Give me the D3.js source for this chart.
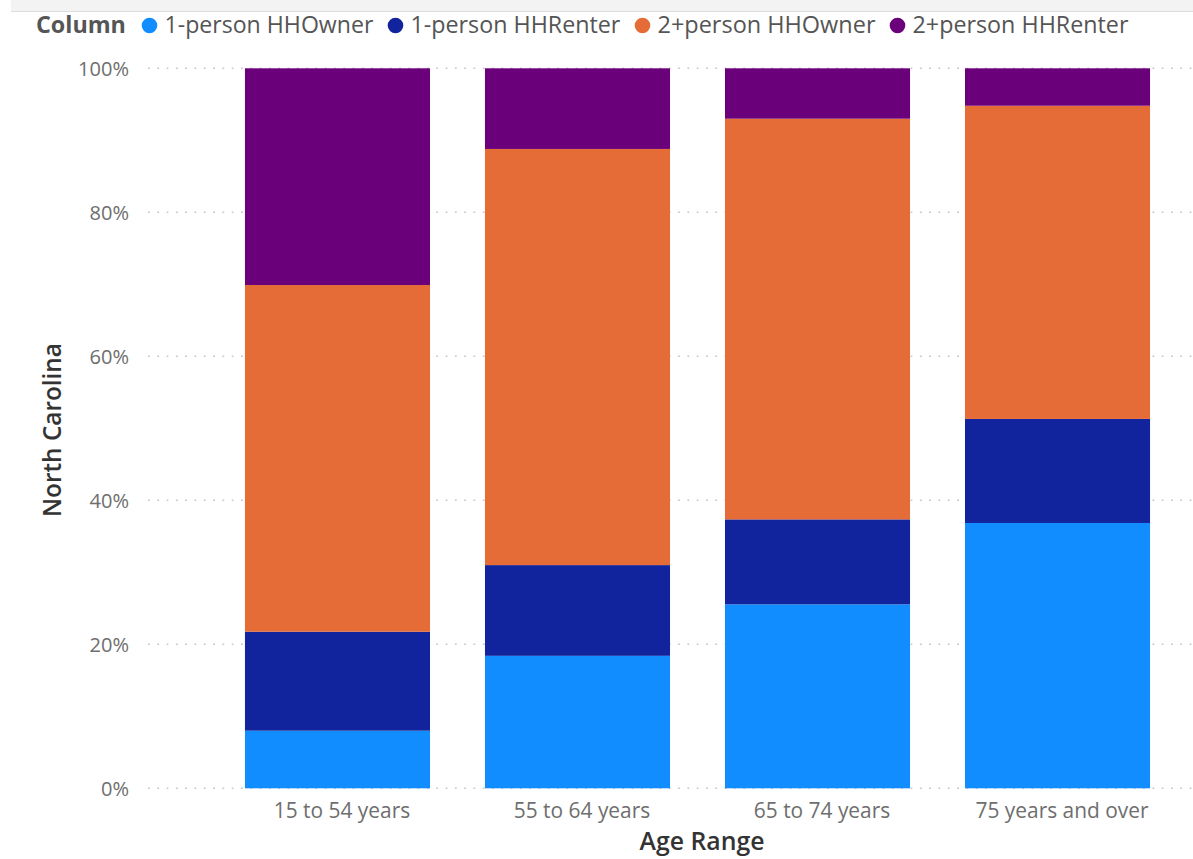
<!DOCTYPE html>
<html>
<head>
<meta charset="utf-8">
<script src="https://cdn.jsdelivr.net/npm/d3@7"></script>
<style>
  html, body { margin: 0; padding: 0; background: #fff; }
  svg { display: block; }
  text { font-family: "Segoe UI", "Open Sans", "Noto Sans", sans-serif; }
</style>
</head>
<body>
<svg id="chart" width="1193" height="859"></svg>
<script>
// ---- data ----
const categories = ["15 to 54 years", "55 to 64 years", "65 to 74 years", "75 years and over"];
const seriesNames = ["1-person HHOwner", "1-person HHRenter", "2+person HHOwner", "2+person HHRenter"];
const ownerOne   = [8.0, 18.4, 25.55, 36.85];
const renterOne  = [13.75, 12.6, 11.8, 14.45];
const ownerTwo   = [48.15, 57.8, 55.65, 43.5];
const renterTwo  = [30.1, 11.2, 7.0, 5.2];
const yTicks = [0, 20, 40, 60, 80, 100];
const colors = ["#118DFF", "#12239E", "#E66C37", "#6B007B"];
const legendTitle = "Column";
const xTitle = "Age Range";
const yTitle = "North Carolina";

// ---- build table ----
const seriesValues = [ownerOne, renterOne, ownerTwo, renterTwo];
const table = categories.map((c, i) => {
  const row = { cat: c };
  seriesNames.forEach((s, j) => row[s] = seriesValues[j][i]);
  return row;
});
const stacked = d3.stack().keys(seriesNames).offset(d3.stackOffsetExpand)(table);

const svg = d3.select("#chart");
const W = 1193, H = 859;

function fit(sel, target) {
  const n = sel.node();
  const fs = parseFloat(sel.attr("font-size"));
  const w = n.getComputedTextLength();
  sel.attr("font-size", (fs * target / w).toFixed(2));
}

// top bar
svg.append("rect").attr("x", 11).attr("y", 0).attr("width", W - 11).attr("height", 11).attr("fill", "#f3f3f3");
svg.append("line").attr("x1", 11).attr("x2", W).attr("y1", 11.5).attr("y2", 11.5).attr("stroke", "#dcdcdc").attr("stroke-width", 1);

// scales
const x = d3.scaleBand().domain(categories).range([148, 1247]).paddingInner(0.229).paddingOuter(0.404);
const y = d3.scaleLinear().domain([0, 1]).range([788.3, 68.3]);

// gridlines
const grid = svg.append("g");
grid.selectAll("line").data(yTicks).join("line")
  .attr("x1", 148).attr("x2", W)
  .attr("y1", d => y(d / 100)).attr("y2", d => y(d / 100))
  .attr("stroke", "#c8c8c8").attr("stroke-width", 1.6)
  .attr("stroke-dasharray", "1.8,7.5");

// y axis labels via d3 axis
const yAxis = svg.append("g").attr("transform", "translate(129,0)")
  .call(d3.axisLeft(y).tickValues(yTicks.map(d => d / 100)).tickFormat(d3.format(".0%")).tickSize(0).tickPadding(0));
yAxis.select(".domain").remove();
yAxis.selectAll("text").attr("font-size", 18).attr("fill", "#6e6e6e").attr("font-family", null).attr("dy", "0.35em");
{
  const t = yAxis.selectAll("text").filter(d => d === 1);
  const w = t.node().getComputedTextLength();
  const fs = 18 * 51 / w;
  yAxis.selectAll("text").attr("font-size", fs.toFixed(2));
}

// bars
const layers = svg.append("g").selectAll("g").data(stacked).join("g")
  .attr("fill", (d, i) => colors[i]);
layers.selectAll("rect").data(d => d).join("rect")
  .attr("x", d => x(d.data.cat))
  .attr("width", x.bandwidth())
  .attr("y", d => y(d[1]))
  .attr("height", d => y(d[0]) - y(d[1]));

// x axis labels
const xAxis = svg.append("g").attr("transform", "translate(0,788.3)")
  .call(d3.axisBottom(x).tickSize(0).tickPadding(0));
xAxis.select(".domain").remove();
xAxis.selectAll("text").attr("font-size", 18).attr("fill", "#6e6e6e").attr("font-family", null)
  .attr("x", 4.5).attr("y", 29.5).attr("dy", 0);
{
  const t = xAxis.selectAll("text").filter(d => d === "75 years and over");
  const w = t.node().getComputedTextLength();
  const fs = 18 * 173 / w;
  xAxis.selectAll("text").attr("font-size", fs.toFixed(2));
}

// axis titles
const xt = svg.append("text").attr("x", 702).attr("y", 850).attr("text-anchor", "middle")
  .attr("font-size", 20).attr("font-weight", 600).attr("fill", "#333").text(xTitle);
fit(xt, 125);
const yt = svg.append("text").attr("transform", "translate(61,430) rotate(-90)").attr("text-anchor", "middle")
  .attr("font-size", 20).attr("font-weight", 600).attr("fill", "#333").text(yTitle);
fit(yt, 174);

// legend
const lg = svg.append("g");
const lt = lg.append("text").attr("x", 36).attr("y", 33).attr("font-size", 20).attr("font-weight", 700)
  .attr("fill", "#555").text(legendTitle);
fit(lt, 90);
const legendTargets = [209, 210, 218, 216];
let cx = 149.5;
seriesNames.forEach((s, i) => {
  lg.append("circle").attr("cx", cx).attr("cy", 25.5).attr("r", 7.8).attr("fill", colors[i]);
  const t = lg.append("text").attr("x", cx + 15).attr("y", 33).attr("font-size", 20).attr("fill", "#555").text(s);
  fit(t, legendTargets[i]);
  cx = cx + 15 + legendTargets[i] + 22;
});
</script>
</body>
</html>
